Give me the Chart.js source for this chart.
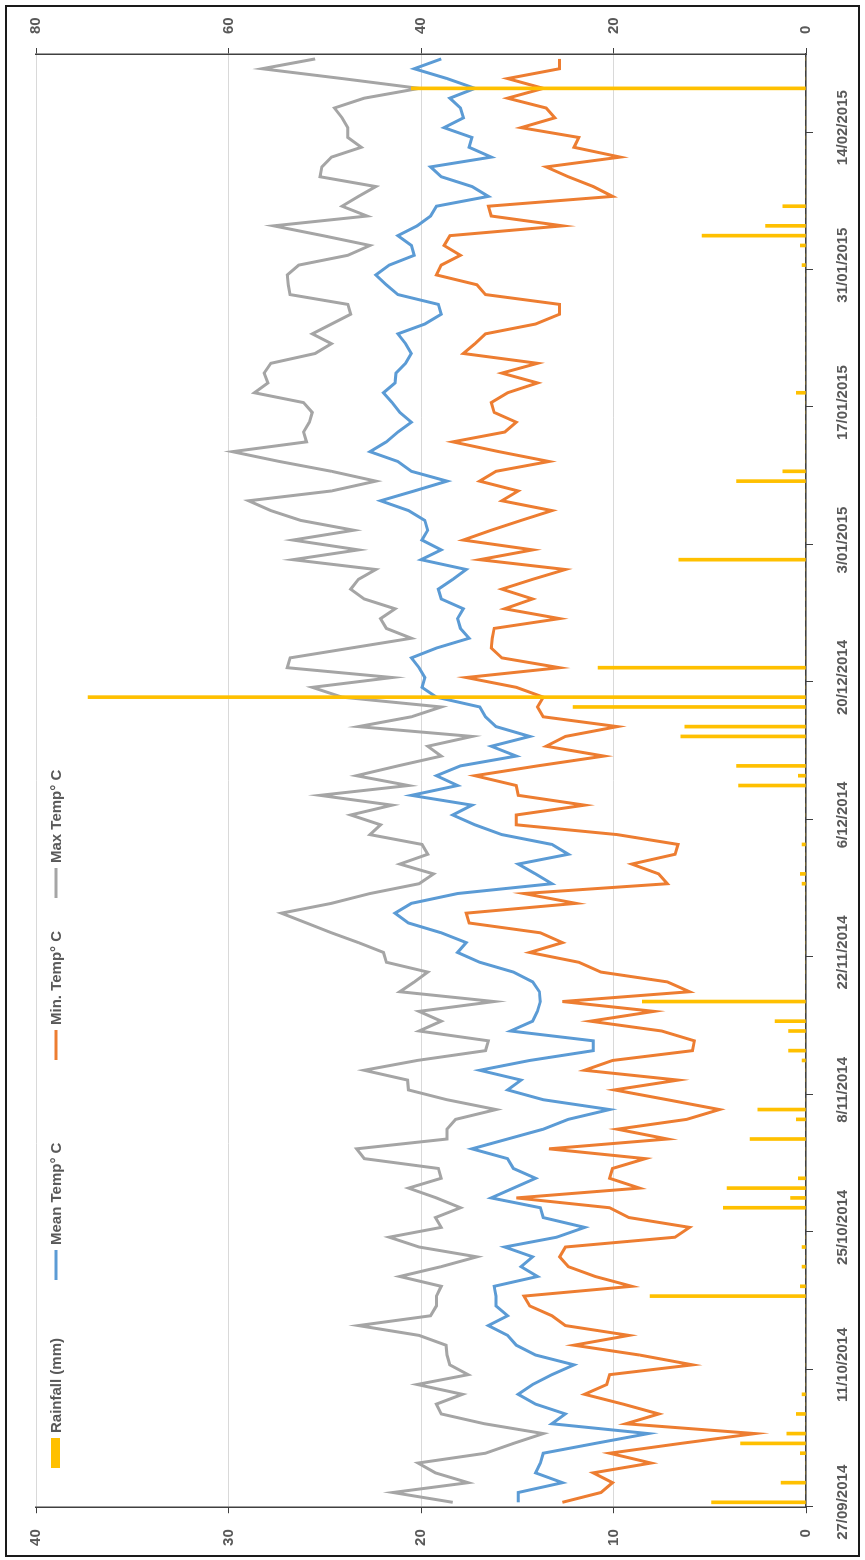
<!DOCTYPE html>
<html><head><meta charset="utf-8">
<script src="https://cdn.jsdelivr.net/npm/chart.js@4/dist/chart.umd.min.js"></script>
<style>
html,body{margin:0;padding:0;background:#fff;width:865px;height:1560px;overflow:hidden}
#wrap{position:absolute;left:0;top:0;width:1560px;height:865px;transform-origin:0 0;transform:translate(0,1560px) rotate(-90deg)}
#frame{position:absolute;left:5px;top:5px;width:855px;height:1552px;border:2px solid #1a1a1a;box-sizing:border-box;pointer-events:none}
</style></head><body>
<div id="wrap"><canvas id="c" width="1560" height="865"></canvas></div>
<div id="frame"></div>
<script>
const tickLabels=["27/09/2014","11/10/2014","25/10/2014","8/11/2014","22/11/2014","6/12/2014","20/12/2014","3/01/2015","17/01/2015","31/01/2015","14/02/2015"];
const tickDays=[0,14,28,42,56,70,84,98,112,126,140];
const seriesNames=["Rainfall (mm)","Mean Temp° C","Min. Temp° C","Max Temp° C"];
const maxTemp=[36.7,42.9,35.1,38.5,40.3,33.3,30.4,27.3,33.4,37.9,38.4,35.7,40.4,35.1,37.0,37.3,37.4,40.2,46.5,39.0,38.4,
38.4,37.9,42.2,37.9,34.2,40.2,43.3,37.9,38.5,35.9,38.4,41.3,37.9,38.2,45.9,46.7,37.3,37.3,36.4,32.2,37.3,41.3,41.4,45.9,40.4,33.3,
33.0,40.2,37.9,40.2,32.4,42.2,40.7,39.3,43.6,43.9,46.5,49.3,51.9,54.5,49.3,45.3,40.2,38.7,42.2,39.3,39.9,45.3,44.2,47.3,43.0,
50.5,41.3,46.7,42.4,37.9,39.3,34.7,46.5,41.0,37.9,48.2,51.3,43.0,53.9,53.6,47.3,41.0,43.6,44.2,42.7,45.9,47.3,46.5,44.7,
53.3,46.5,53.3,47.0,52.5,55.6,57.9,49.3,44.7,49.3,54.7,59.6,51.9,52.2,51.6,51.3,52.2,57.3,55.9,56.3,55.6,51.0,49.3,51.3,49.3,47.3,
47.6,53.6,53.8,53.9,52.7,47.6,45.3,50.2,55.3,45.6,48.2,46.5,44.7,50.5,50.3,49.3,46.2,47.6,47.6,48.2,49.0,45.9,40.2,48.2,56.5,51.0];
const meanTemp=[29.9,29.9,25.3,28.1,27.6,27.3,21.9,16.4,26.4,25.0,28.1,29.9,28.4,26.4,24.1,28.1,30.1,31.0,33.0,31.0,32.2,
32.2,32.4,27.9,29.6,28.4,31.3,25.9,23.0,27.3,27.6,32.7,30.4,28.1,30.4,31.0,34.7,31.0,27.3,24.7,20.4,27.3,31.0,29.6,33.9,28.7,22.1,
22.1,30.7,28.4,27.9,27.6,27.7,28.4,30.4,33.9,36.2,35.3,37.9,41.3,42.7,41.0,36.2,26.4,28.1,29.9,24.7,26.4,31.6,34.4,36.7,34.7,
41.0,36.2,38.4,35.9,30.1,32.7,28.7,32.2,33.3,33.9,38.4,39.9,39.6,40.2,41.0,38.4,35.0,35.9,36.2,35.6,37.9,38.2,36.7,35.3,
40.0,37.9,39.9,39.3,39.6,41.3,44.2,40.7,37.3,41.0,42.4,45.3,43.6,42.4,41.0,42.2,43.0,43.9,42.7,42.6,41.6,41.0,41.6,42.4,39.6,37.9,
38.2,42.4,43.6,44.7,43.3,40.7,41.0,42.4,40.4,39.0,38.4,33.0,34.7,37.9,39.0,32.7,35.0,34.7,37.6,35.6,35.9,37.0,34.4,37.3,40.7,37.9];
const minTemp=[25.3,21.3,20.1,22.1,16.1,20.4,13.0,5.3,18.7,15.3,19.0,23.0,20.7,20.4,11.8,17.3,24.1,18.4,25.0,26.4,28.7,
29.3,18.1,21.9,24.7,25.6,25.0,13.6,12.1,18.4,20.4,30.1,17.3,20.4,20.1,16.7,26.7,14.4,19.6,12.4,9.0,14.4,19.9,13.3,23.0,20.1,11.8,
11.6,15.0,22.4,15.8,25.3,12.1,14.4,21.3,23.6,28.7,25.3,27.6,35.0,35.3,23.9,29.3,14.4,15.3,18.1,13.6,13.3,19.6,30.1,30.1,23.0,
29.9,30.1,34.4,27.9,21.0,27.0,25.0,19.6,27.3,27.9,27.3,30.1,35.3,25.6,31.6,32.7,32.6,32.4,25.6,31.3,28.4,31.6,28.4,25.0,
33.9,28.4,35.6,32.7,29.6,26.4,31.6,29.9,33.9,32.2,26.7,31.9,36.7,31.3,30.1,32.4,32.7,31.0,27.9,31.6,27.9,35.6,34.4,33.3,28.1,25.6,
25.6,33.3,34.2,38.4,37.9,35.9,37.6,37.0,25.3,32.7,33.0,20.1,22.1,24.7,27.0,19.3,24.1,23.6,29.6,26.1,27.0,31.0,27.3,31.0,25.6,25.6];
const rainfall=[4.9,0,1.3,0,0,0.3,3.4,1.0,0,0.5,0,0.2,0,0,0,0,0,0,0,0,0,
8.1,0.3,0,0.2,0,0.2,0,0,0,4.3,0.8,4.1,0.4,0,0,0,2.9,0,0.5,2.5,0,0,0,0,0.2,0.9,
0,0.9,1.6,0,8.5,0,0,0,0,0,0,0,0,0,0,0,0.2,0.3,0,0,0.2,0,0,0,0,0,
3.5,0.4,3.6,0,0,6.5,6.3,0,12.1,37.3,0,0,10.8,0,0,0,0,0,0,0,0,0,0,6.6,
0,0,0,0,0,0,0,3.6,1.2,0,0,0,0,0,0,0,0.5,0,0,0,0,0,0,0,0,0,
0,0,0,0.2,0,0.3,5.4,2.1,0,1.2,0,0,0,0,0,0,0,0,0,0,0,20.5,0,0,0,0];

const pts=a=>a.map((v,i)=>({x:i,y:v}));
const txt='#595959', fnt={family:'Liberation Sans, Arial',size:15,weight:'bold'};
const colors=['#FFC000','#5B9BD5','#ED7D31','#A5A5A5'];

const extras={id:'extras',afterDraw(ch){
  const c=ch.ctx,x=ch.scales.x,a=ch.chartArea;
  c.save();c.strokeStyle='#404040';c.lineWidth=1;
  tickDays.forEach(d=>{const px=Math.round(x.getPixelForValue(d-0.5))+0.5;c.beginPath();c.moveTo(px,a.bottom);c.lineTo(px,a.bottom+7);c.stroke();});
  const pos=[92,280,500,662];
  c.font='bold 15px Liberation Sans, Arial';c.textBaseline='middle';
  pos.forEach((p,i)=>{
    c.strokeStyle=colors[i];
    if(i===0){c.fillStyle=colors[0];c.fillRect(p,51,30,9);}
    else{c.lineWidth=3;c.beginPath();c.moveTo(p,56);c.lineTo(p+30,56);c.stroke();}
    c.fillStyle=txt;c.fillText(seriesNames[i],p+35,57);
  });
  c.restore();
}};

new Chart(document.getElementById('c'),{
  data:{datasets:[
    {type:'line',label:seriesNames[1],data:pts(meanTemp),yAxisID:'yT',borderColor:colors[1],borderWidth:3,pointRadius:0,tension:0,order:1},
    {type:'line',label:seriesNames[2],data:pts(minTemp),yAxisID:'yT',borderColor:colors[2],borderWidth:3,pointRadius:0,tension:0,order:1},
    {type:'line',label:seriesNames[3],data:pts(maxTemp),yAxisID:'yT',borderColor:colors[3],borderWidth:3,pointRadius:0,tension:0,order:1},
    {type:'bar',label:seriesNames[0],data:pts(rainfall),yAxisID:'yR',backgroundColor:colors[0],barThickness:3,order:0}
  ]},
  options:{responsive:false,animation:false,devicePixelRatio:1,
    layout:{padding:{top:36,left:0,right:0,bottom:0}},
    plugins:{legend:{display:false},tooltip:{enabled:false}},
    scales:{
      x:{type:'linear',offset:false,min:-0.5,max:meanTemp.length-0.5,
        afterBuildTicks:s=>{s.ticks=tickDays.map(v=>({value:v}));},
        afterFit:s=>{s.height=59;},
        grid:{display:false,offset:false},border:{display:true,color:'#404040',width:1.5},
        ticks:{padding:20,maxRotation:0,color:txt,font:fnt,callback:(v)=>tickLabels[tickDays.indexOf(v)]}},
      yR:{position:'left',min:0,max:40,afterFit:s=>{s.width=46;},
        ticks:{stepSize:10,color:txt,font:fnt,padding:16},
        grid:{color:'#d9d9d9',tickColor:'#404040',tickLength:6},border:{display:true,color:'#404040',width:1.5}},
      yT:{position:'right',min:0,max:80,afterFit:s=>{s.width=54;},
        ticks:{stepSize:20,color:txt,font:fnt,padding:14},
        grid:{drawOnChartArea:false,tickColor:'#404040',tickLength:6},border:{display:true,color:'#404040',width:1.5}}
    }
  },
  plugins:[extras]
});
</script></body></html>
